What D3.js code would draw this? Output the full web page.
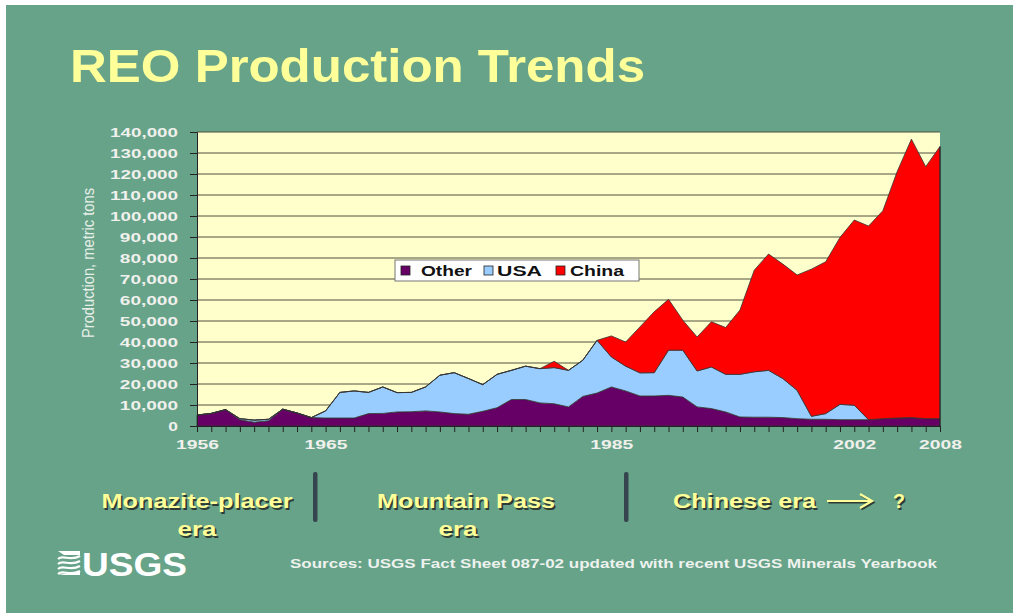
<!DOCTYPE html>
<html>
<head>
<meta charset="utf-8">
<script src="https://cdn.jsdelivr.net/npm/d3@7"></script>
<style>
  html, body { margin: 0; padding: 0; background: #ffffff; }
  svg { display: block; }
</style>
</head>
<body>
<svg id="chart" width="1013" height="613"></svg>
<script>
// ---- Data ----
const years = d3.range(1956, 2009);
const otherValues = [
  5200, 6000, 7800, 3000, 1800, 2500, 8000, 6200, 4000, 3800,   // 1956-1965
  3800, 3800, 5900, 6000, 6700, 6800, 7200, 6700, 5900, 5600,   // 1966-1975
  7000, 8700, 12600, 12600, 11000, 10600, 9100, 14100, 15700, 18600, // 1976-1985
  16700, 14300, 14300, 14600, 13800, 9100, 8300, 6700, 4300, 4200,  // 1986-1995
  4200, 4000, 3500, 3200, 3200, 3000, 3000, 3000, 3500, 3800,   // 1996-2005
  4000, 3500, 3500                                               // 2006-2008
];
const usaValues = [
  0, 0, 0, 500, 1000, 700, 0, 0, 0, 3400,                        // 1956-1965
  12200, 12900, 10100, 12600, 9200, 9200, 11400, 17500, 19500, 17000, // 1966-1975
  12700, 15900, 13900, 15900, 16300, 17200, 17400, 17200, 25100, 14300, // 1976-1985
  11800, 11000, 11100, 21500, 22300, 17100, 19800, 17900, 20300, 21600, // 1986-1995
  22300, 18600, 13500, 1400, 2700, 7300, 6900, 0, 0, 0,          // 1996-2005
  0, 0, 0                                                        // 2006-2008
];
const chinaValues = [
  0, 0, 0, 0, 0, 0, 0, 0, 0, 0,                                  // 1956-1965
  0, 0, 0, 0, 0, 0, 0, 0, 0, 0,                                  // 1966-1975
  0, 0, 0, 0, 0, 3000, 0, 0, 0, 10000,                           // 1976-1985
  11500, 21900, 29000, 24200, 14300, 16200, 21500, 22300, 30600, 48400, // 1986-1995
  55400, 54500, 54900, 70100, 72300, 79500, 88200, 92200, 99000, 117300, // 1996-2005
  132600, 120000, 129600                                         // 2006-2008
];
const seriesNames = ["Other", "USA", "China"];
const seriesColors = ["#660066", "#99CCFF", "#FF0000"];
const yTickValues = d3.range(0, 140001, 10000);
const xLabelYears = [1956, 1965, 1985, 2002, 2008];

const titleText = "REO Production Trends";
const yAxisTitle = "Production, metric tons";
const eraLabels = [
  { lines: ["Monazite-placer", "era"] },
  { lines: ["Mountain Pass", "era"] },
  { lines: ["Chinese era"] }
];
const sourceText = "Sources: USGS Fact Sheet 087-02 updated with recent USGS Minerals Yearbook";

// ---- Build table ----
const table = years.map((yr, i) => ({
  year: yr, Other: otherValues[i], USA: usaValues[i], China: chinaValues[i]
}));

const svg = d3.select("#chart");
const W = 1013, H = 613;

// background
svg.append("rect").attr("x", 6).attr("y", 5).attr("width", W - 6).attr("height", H - 5)
  .attr("fill", "#66A389");

// layout
const plot = { left: 197, right: 940, top: 132, bottom: 426 };
const x = d3.scaleLinear().domain([1956, 2008]).range([plot.left, plot.right]);
const y = d3.scaleLinear().domain([0, 140000]).range([plot.bottom, plot.top]);

function fit(sel, len) {
  sel.attr("textLength", len).attr("lengthAdjust", "spacingAndGlyphs");
}

// title
svg.append("text").attr("x", 70).attr("y", 82)
  .attr("font-family", "'Liberation Sans', Arial, sans-serif")
  .attr("font-weight", "bold").attr("font-size", 47)
  .attr("fill", "#FFFF99").text(titleText)
  .call(fit, 575);

// plot background
svg.append("rect").attr("x", plot.left).attr("y", plot.top)
  .attr("width", plot.right - plot.left).attr("height", plot.bottom - plot.top)
  .attr("fill", "#FFFFCC");

// gridlines
svg.append("g").selectAll("line").data(yTickValues.filter(d => d > 0)).join("line")
  .attr("x1", plot.left).attr("x2", plot.right)
  .attr("y1", d => y(d)).attr("y2", d => y(d))
  .attr("stroke", "#505040").attr("stroke-width", 1);

// stacked areas
const stack = d3.stack().keys(seriesNames);
const layers = stack(table);
const area = d3.area()
  .x(d => x(d.data.year))
  .y0(d => y(d[0]))
  .y1(d => y(d[1]));

svg.append("g").selectAll("path").data(layers).join("path")
  .attr("d", area)
  .attr("fill", (d, i) => seriesColors[i])
  .attr("stroke", "#333333")
  .attr("stroke-width", 0.8)
  .attr("stroke-linejoin", "round");

// right border line of plot
svg.append("line").attr("x1", plot.right).attr("x2", plot.right)
  .attr("y1", y(layers[2][layers[2].length - 1][1])).attr("y2", plot.bottom)
  .attr("stroke", "#222").attr("stroke-width", 1);

// y axis
const yAxis = svg.append("g").attr("transform", `translate(${plot.left},0)`)
  .call(d3.axisLeft(y).tickValues(yTickValues).tickSize(7).tickPadding(12)
    .tickFormat(d3.format(",")));
yAxis.select(".domain").attr("stroke", "#222");
yAxis.selectAll(".tick line").attr("stroke", "#222");
yAxis.selectAll(".tick text")
  .attr("font-family", "'Liberation Sans', Arial, sans-serif")
  .attr("font-weight", "bold").attr("font-size", 13.5)
  .attr("fill", "#F0F0EC")
  .each(function (d) {
    const s = d3.format(",")(d);
    d3.select(this).call(fit, s.length * 9.7);
  });

// x axis
const xAxis = svg.append("g").attr("transform", `translate(0,${plot.bottom})`)
  .call(d3.axisBottom(x).tickValues(years).tickSize(6).tickPadding(7)
    .tickFormat(d => xLabelYears.includes(d) ? String(d) : ""));
xAxis.select(".domain").attr("stroke", "#222");
xAxis.selectAll(".tick line").attr("stroke", "#222");
xAxis.selectAll(".tick text")
  .attr("font-family", "'Liberation Sans', Arial, sans-serif")
  .attr("font-weight", "bold").attr("font-size", 13.5)
  .attr("fill", "#F0F0EC")
  .each(function (d) {
    if (xLabelYears.includes(d)) d3.select(this).call(fit, 43);
  });

// y axis title
svg.append("text")
  .attr("transform", "translate(94,263) rotate(-90)")
  .attr("text-anchor", "middle")
  .attr("font-family", "'Liberation Sans Narrow', 'Liberation Sans', Arial, sans-serif")
  .attr("font-size", 16.5).attr("fill", "#E6EEE8")
  .text(yAxisTitle).call(fit, 150);

// legend
const lg = svg.append("g");
lg.append("rect").attr("x", 395).attr("y", 260).attr("width", 244).attr("height", 21)
  .attr("fill", "#FFFFFF").attr("stroke", "#777").attr("stroke-width", 1);
const legendItems = [
  { sx: 401, tx: 421, tl: 51 },
  { sx: 484, tx: 497, tl: 45 },
  { sx: 556, tx: 570, tl: 54 }
];
seriesNames.forEach((name, i) => {
  const it = legendItems[i];
  lg.append("rect").attr("x", it.sx).attr("y", 266).attr("width", 9).attr("height", 9)
    .attr("fill", seriesColors[i]).attr("stroke", "#222").attr("stroke-width", 0.8);
  lg.append("text").attr("x", it.tx).attr("y", 275.5)
    .attr("font-family", "'Liberation Sans', Arial, sans-serif")
    .attr("font-weight", "bold").attr("font-size", 14).attr("fill", "#111")
    .text(name).call(fit, it.tl);
});

// era labels
const eraPos = [
  [{ cx: 197, y: 508, len: 191 }, { cx: 197, y: 536, len: 39 }],
  [{ cx: 466, y: 508, len: 178 }, { cx: 458, y: 536, len: 39 }],
  [{ cx: 744.5, y: 508, len: 143 }]
];
function shadowText(str, cx, yy, len, anchor) {
  [["#2E3A33", 1.6], ["#FFFF99", 0]].forEach(([col, off]) => {
    svg.append("text").attr("x", cx + off).attr("y", yy + off)
      .attr("text-anchor", anchor || "middle")
      .attr("font-family", "'Liberation Sans', Arial, sans-serif")
      .attr("font-weight", "bold").attr("font-size", 20)
      .attr("fill", col).text(str).call(fit, len);
  });
}
eraLabels.forEach((e, i) => {
  e.lines.forEach((ln, j) => {
    const p = eraPos[i][j];
    shadowText(ln, p.cx, p.y, p.len);
  });
});
shadowText("?", 899, 508, 12);

// arrow
[["#2E3A33", 1.4], ["#FFFF99", 0]].forEach(([col, off]) => {
  const g = svg.append("g").attr("transform", `translate(${off},${off})`);
  g.append("line").attr("x1", 827).attr("x2", 870).attr("y1", 501).attr("y2", 501)
    .attr("stroke", col).attr("stroke-width", 2.2);
  g.append("path").attr("d", "M860,494 L872,501 L860,508")
    .attr("fill", "none").attr("stroke", col).attr("stroke-width", 2.2);
});

// era separators
[313, 624].forEach(xx => {
  svg.append("rect").attr("x", xx).attr("y", 472).attr("width", 4.5).attr("height", 50)
    .attr("rx", 2).attr("fill", "#35444E");
});

// sources
svg.append("text").attr("x", 290).attr("y", 568)
  .attr("font-family", "'Liberation Sans', Arial, sans-serif")
  .attr("font-weight", "bold").attr("font-size", 13.5).attr("fill", "#EEF2EE")
  .text(sourceText).call(fit, 647);

// USGS logo
const logo = svg.append("g");
logo.append("path").attr("d", "M58,551 L80,551 L80,555 L64,555 Z").attr("fill", "#fff");
[557, 562, 567, 572].forEach((yy, k) => {
  logo.append("path")
    .attr("d", `M58,${yy + 2} C63,${yy - 3} 70,${yy + 5} 80,${yy - 1}`)
    .attr("fill", "none").attr("stroke", "#fff").attr("stroke-width", 2.2);
});
logo.append("path").attr("d", "M58,575 L80,575 L80,571 Z").attr("fill", "#fff");
logo.append("text").attr("x", 82).attr("y", 576)
  .attr("font-family", "'Liberation Sans Narrow', 'Liberation Sans', Arial, sans-serif")
  .attr("font-weight", "bold").attr("font-size", 33).attr("fill", "#fff")
  .text("USGS").call(fit, 105);
</script>
</body>
</html>
